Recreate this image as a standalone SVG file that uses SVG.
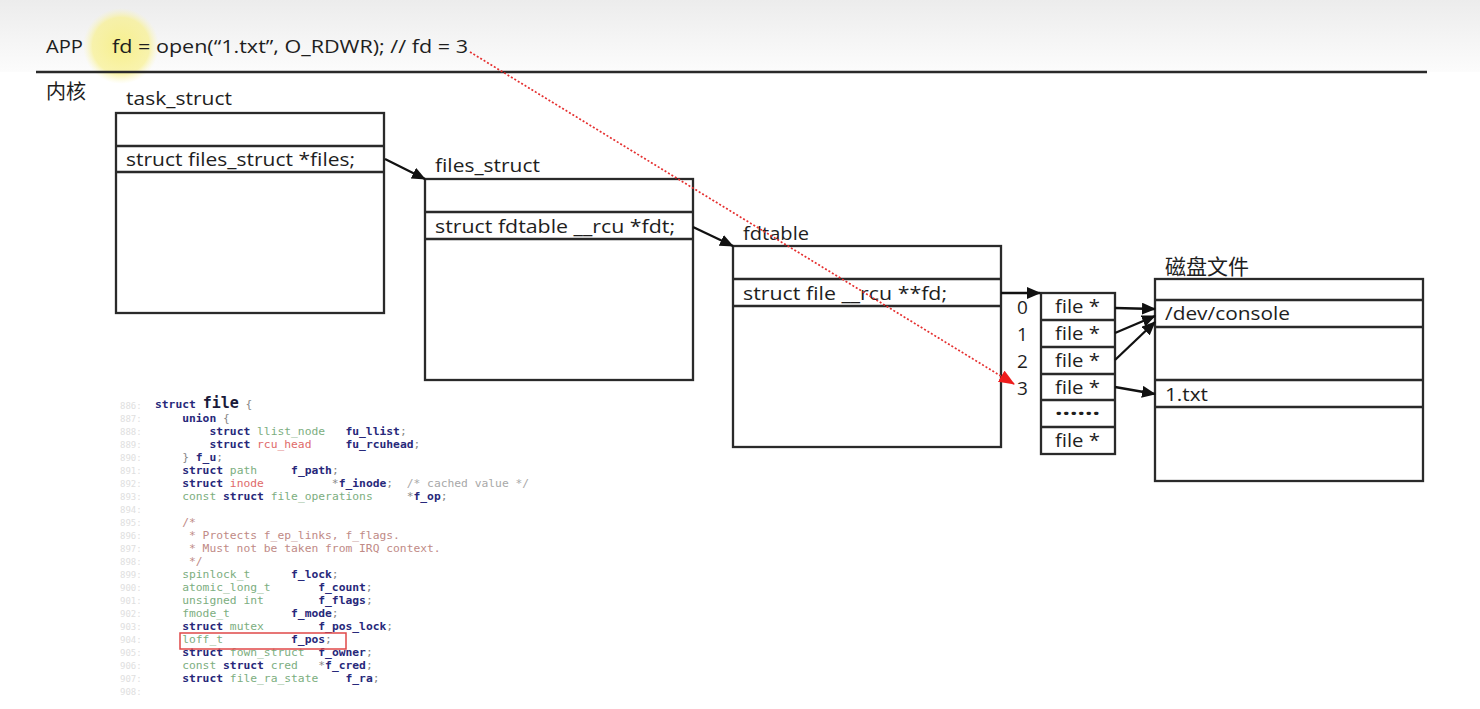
<svg xmlns="http://www.w3.org/2000/svg" width="1480" height="709" viewBox="0 0 1480 709">
<defs>
  <linearGradient id="topbg" x1="0" y1="0" x2="0" y2="1">
    <stop offset="0" stop-color="#ececec"/>
    <stop offset="1" stop-color="#fcfcfc"/>
  </linearGradient>
  <radialGradient id="hl" cx="0.5" cy="0.5" r="0.5">
    <stop offset="0" stop-color="#f7ee7a" stop-opacity="0.85"/>
    <stop offset="0.75" stop-color="#f8f08c" stop-opacity="0.7"/>
    <stop offset="1" stop-color="#fbf6b8" stop-opacity="0"/>
  </radialGradient>
  <marker id="ah" markerWidth="14" markerHeight="12" refX="13" refY="6" orient="auto" markerUnits="userSpaceOnUse" viewBox="0 0 14 12">
    <path d="M0,0 L14,6 L0,12 z" fill="#111"/>
  </marker>
  <marker id="ahr" markerWidth="16" markerHeight="13" refX="15" refY="6.5" orient="auto" markerUnits="userSpaceOnUse" viewBox="0 0 16 13">
    <path d="M0,0 L16,6.5 L0,13 z" fill="#ee1c1c"/>
  </marker>
  <style>
    .box { fill: #fff; stroke: #2a2a2a; stroke-width: 2.3; }
    .sep { stroke: #2a2a2a; stroke-width: 2.3; }
    .lbl { font-family: "Open Sans", "Liberation Sans", "Noto Sans CJK SC", sans-serif; font-size: 19px; fill: #1e1e1e; }
    .cjk { font-family: "Noto Sans CJK SC", sans-serif; fill: #1e1e1e; }
    .conn { stroke: #111; stroke-width: 2.3; fill: none; marker-end: url(#ah); }
    .red { stroke: #e53030; stroke-width: 1.7; stroke-dasharray: 2 2; fill: none; marker-end: url(#ahr); }
    .code { font-family: "DejaVu Sans Mono", "Liberation Mono", monospace; font-size: 11.3px; white-space: pre; fill: #888; }
    .ln { font-family: "DejaVu Sans Mono", monospace; font-size: 9px; fill: #e0e0e0; }
    .k { fill: #27287a; font-weight: bold; }
    .f { fill: #27287a; font-weight: bold; }
    .t { fill: #7cae80; }
    .r { fill: #e06a6a; }
    .c { fill: #a8a8a8; }
    .cm { fill: #c08a86; }
  </style>
</defs>

<rect x="0" y="0" width="1480" height="709" fill="#ffffff"/>
<rect x="0" y="0" width="1480" height="72" fill="url(#topbg)"/>

<!-- cursor highlight -->
<circle cx="121" cy="46" r="38" fill="url(#hl)"/>

<g id="header">
  <text class="lbl" x="46" y="53" font-size="17" textLength="37" lengthAdjust="spacingAndGlyphs">APP</text>
  <text class="lbl" x="112" y="53" font-size="17" textLength="356" lengthAdjust="spacingAndGlyphs">fd = open(“1.txt”, O_RDWR); // fd = 3</text>
  <line class="sep" x1="36" y1="72" x2="1427" y2="72" stroke-width="2.5"/>
  <text class="cjk" x="46" y="99" font-size="20">内核</text>
</g>

<g id="task_struct">
  <text class="lbl" x="126" y="105" textLength="106" lengthAdjust="spacingAndGlyphs">task_struct</text>
  <rect class="box" x="116" y="113" width="268" height="200"/>
  <line class="sep" x1="116" y1="146" x2="384" y2="146"/>
  <line class="sep" x1="116" y1="172" x2="384" y2="172"/>
  <text class="lbl" x="126" y="166" textLength="229" lengthAdjust="spacingAndGlyphs">struct files_struct *files;</text>
</g>

<g id="files_struct">
  <text class="lbl" x="435" y="172" textLength="105" lengthAdjust="spacingAndGlyphs">files_struct</text>
  <rect class="box" x="425" y="179" width="268" height="201"/>
  <line class="sep" x1="425" y1="212" x2="693" y2="212"/>
  <line class="sep" x1="425" y1="239" x2="693" y2="239"/>
  <text class="lbl" x="435" y="233" textLength="240" lengthAdjust="spacingAndGlyphs">struct fdtable __rcu *fdt;</text>
</g>

<g id="fdtable">
  <text class="lbl" x="743" y="240" textLength="66" lengthAdjust="spacingAndGlyphs">fdtable</text>
  <rect class="box" x="733" y="246" width="268" height="201"/>
  <line class="sep" x1="733" y1="279" x2="1001" y2="279"/>
  <line class="sep" x1="733" y1="306" x2="1001" y2="306"/>
  <text class="lbl" x="743" y="300" textLength="204" lengthAdjust="spacingAndGlyphs">struct file __rcu **fd;</text>
</g>

<g id="fd_array">
  <rect class="box" x="1041" y="293" width="74" height="161"/>
  <line class="sep" x1="1041" y1="320" x2="1115" y2="320"/>
  <line class="sep" x1="1041" y1="347" x2="1115" y2="347"/>
  <line class="sep" x1="1041" y1="374" x2="1115" y2="374"/>
  <line class="sep" x1="1041" y1="400" x2="1115" y2="400"/>
  <line class="sep" x1="1041" y1="427" x2="1115" y2="427"/>
  <text class="lbl" x="1055" y="313" textLength="45" lengthAdjust="spacingAndGlyphs">file *</text>
  <text class="lbl" x="1055" y="340" textLength="45" lengthAdjust="spacingAndGlyphs">file *</text>
  <text class="lbl" x="1055" y="367" textLength="45" lengthAdjust="spacingAndGlyphs">file *</text>
  <text class="lbl" x="1055" y="394" textLength="45" lengthAdjust="spacingAndGlyphs">file *</text>
  <text class="lbl" x="1055" y="420" font-weight="bold" textLength="45" lengthAdjust="spacingAndGlyphs">······</text>
  <text class="lbl" x="1055" y="447" textLength="45" lengthAdjust="spacingAndGlyphs">file *</text>
  <text class="lbl" x="1017" y="314" font-size="18">0</text>
  <text class="lbl" x="1017" y="341" font-size="18">1</text>
  <text class="lbl" x="1017" y="368" font-size="18">2</text>
  <text class="lbl" x="1017" y="395" font-size="18">3</text>
</g>

<g id="disk_files">
  <text class="cjk" x="1165" y="274" font-size="21">磁盘文件</text>
  <rect class="box" x="1155" y="279" width="268" height="202"/>
  <line class="sep" x1="1155" y1="300" x2="1423" y2="300"/>
  <line class="sep" x1="1155" y1="327" x2="1423" y2="327"/>
  <line class="sep" x1="1155" y1="380" x2="1423" y2="380"/>
  <line class="sep" x1="1155" y1="407" x2="1423" y2="407"/>
  <text class="lbl" x="1165" y="320" textLength="125" lengthAdjust="spacingAndGlyphs">/dev/console</text>
  <text class="lbl" x="1165" y="401" textLength="43" lengthAdjust="spacingAndGlyphs">1.txt</text>
</g>

<g id="connectors">
  <line class="conn" x1="385" y1="159" x2="425" y2="179"/>
  <line class="conn" x1="693" y1="227" x2="733" y2="246"/>
  <line class="conn" x1="1001" y1="293" x2="1040" y2="293"/>
  <line class="conn" x1="1115" y1="308" x2="1155" y2="309"/>
  <line class="conn" x1="1115" y1="333" x2="1155" y2="316"/>
  <line class="conn" x1="1115" y1="360" x2="1155" y2="322"/>
  <line class="conn" x1="1115" y1="387" x2="1155" y2="394"/>
  <line class="red" x1="470" y1="52" x2="1014" y2="384"/>
</g>

<g id="code">
  <text class="ln" x="120" y="409">886:</text>
  <text class="ln" x="120" y="422">887:</text>
  <text class="ln" x="120" y="435">888:</text>
  <text class="ln" x="120" y="448">889:</text>
  <text class="ln" x="120" y="461">890:</text>
  <text class="ln" x="120" y="474">891:</text>
  <text class="ln" x="120" y="487">892:</text>
  <text class="ln" x="120" y="500">893:</text>
  <text class="ln" x="120" y="513">894:</text>
  <text class="ln" x="120" y="526">895:</text>
  <text class="ln" x="120" y="539">896:</text>
  <text class="ln" x="120" y="552">897:</text>
  <text class="ln" x="120" y="565">898:</text>
  <text class="ln" x="120" y="578">899:</text>
  <text class="ln" x="120" y="591">900:</text>
  <text class="ln" x="120" y="604">901:</text>
  <text class="ln" x="120" y="617">902:</text>
  <text class="ln" x="120" y="630">903:</text>
  <text class="ln" x="120" y="643">904:</text>
  <text class="ln" x="120" y="656">905:</text>
  <text class="ln" x="120" y="669">906:</text>
  <text class="ln" x="120" y="682">907:</text>
  <text class="ln" x="120" y="695">908:</text>

  <text class="code" x="155" y="408"><tspan class="k">struct</tspan> <tspan font-size="15" font-weight="bold" fill="#1a1a3a">file</tspan> {</text>
  <text class="code" x="155" y="422">    <tspan class="k">union</tspan> {</text>
  <text class="code" x="155" y="435">        <tspan class="k">struct</tspan> <tspan class="t">llist_node</tspan>   <tspan class="f">fu_llist</tspan>;</text>
  <text class="code" x="155" y="448">        <tspan class="k">struct</tspan> <tspan class="r">rcu_head</tspan>     <tspan class="f">fu_rcuhead</tspan>;</text>
  <text class="code" x="155" y="461">    } <tspan class="f">f_u</tspan>;</text>
  <text class="code" x="155" y="474">    <tspan class="k">struct</tspan> <tspan class="t">path</tspan>     <tspan class="f">f_path</tspan>;</text>
  <text class="code" x="155" y="487">    <tspan class="k">struct</tspan> <tspan class="r">inode</tspan>          *<tspan class="f">f_inode</tspan>;  <tspan class="c">/* cached value */</tspan></text>
  <text class="code" x="155" y="500">    <tspan class="t">const</tspan> <tspan class="k">struct</tspan> <tspan class="t">file_operations</tspan>     *<tspan class="f">f_op</tspan>;</text>
  <text class="code cm" x="155" y="526">    /*</text>
  <text class="code cm" x="155" y="539">     * Protects f_ep_links, f_flags.</text>
  <text class="code cm" x="155" y="552">     * Must not be taken from IRQ context.</text>
  <text class="code cm" x="155" y="565">     */</text>
  <text class="code" x="155" y="578">    <tspan class="t">spinlock_t</tspan>      <tspan class="f">f_lock</tspan>;</text>
  <text class="code" x="155" y="591">    <tspan class="t">atomic_long_t</tspan>       <tspan class="f">f_count</tspan>;</text>
  <text class="code" x="155" y="604">    <tspan class="t">unsigned int</tspan>        <tspan class="f">f_flags</tspan>;</text>
  <text class="code" x="155" y="617">    <tspan class="t">fmode_t</tspan>         <tspan class="f">f_mode</tspan>;</text>
  <text class="code" x="155" y="630">    <tspan class="k">struct</tspan> <tspan class="t">mutex</tspan>        <tspan class="f">f_pos_lock</tspan>;</text>
  <text class="code" x="155" y="643">    <tspan class="t">loff_t</tspan>          <tspan class="f">f_pos</tspan>;</text>
  <text class="code" x="155" y="656">    <tspan class="k">struct</tspan> <tspan class="t">fown_struct</tspan>  <tspan class="f">f_owner</tspan>;</text>
  <text class="code" x="155" y="669">    <tspan class="t">const</tspan> <tspan class="k">struct</tspan> <tspan class="t">cred</tspan>   *<tspan class="f">f_cred</tspan>;</text>
  <text class="code" x="155" y="682">    <tspan class="k">struct</tspan> <tspan class="t">file_ra_state</tspan>    <tspan class="f">f_ra</tspan>;</text>
  <rect x="180" y="633" width="166" height="16" fill="none" stroke="#e04848" stroke-width="1.5"/>
</g>
</svg>
